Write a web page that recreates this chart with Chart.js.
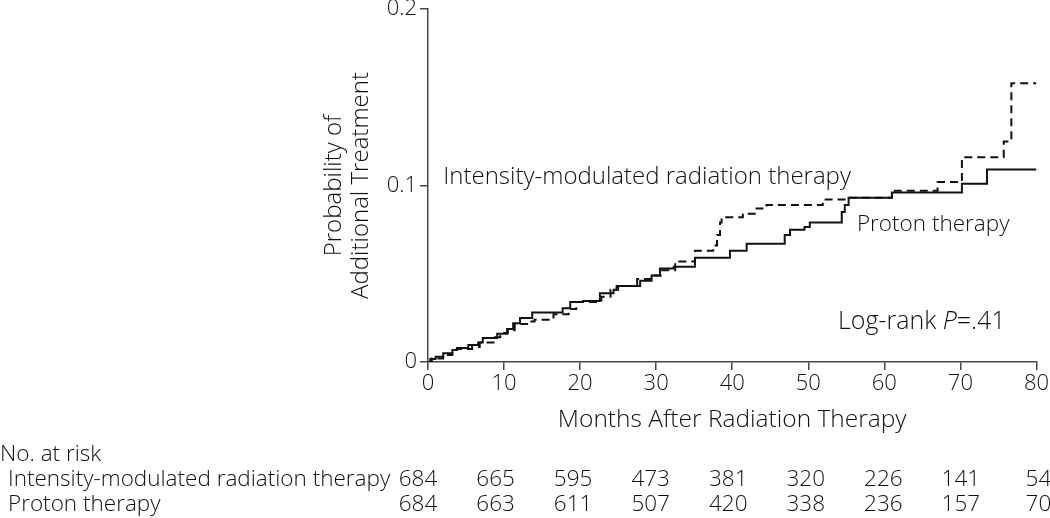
<!DOCTYPE html>
<html lang="en">
  <head>
    <meta charset="UTF-8" />
    <title>Probability of Additional Treatment</title>
    <script src="https://cdn.jsdelivr.net/npm/chart.js@4.4.1/dist/chart.umd.min.js"></script>
    <style>
      body { margin: 0; background: #fff; }
    </style>
  </head>
  <body>
    <canvas id="chart" width="1050" height="518"></canvas>
    <script>
    // step curves: month where the step happens, new probability
    const imrtMonths = [0, 0.5, 2, 3.2, 3.8, 5.8, 6.8, 8.8, 9.5, 10.5, 11.4, 13.2, 14, 16.5, 18.5, 19.5, 22.8, 24, 25,
      27.5, 29.3, 30.6, 32.5, 35.1, 37.5, 38, 38.4, 38.6, 41.4, 43.2, 44.5, 51.9, 55.2, 61, 67, 70.2, 75.7, 76.7, 80];
    const imrtProb = [0, 0.002, 0.004, 0.0068, 0.0074, 0.0085, 0.011, 0.014, 0.0164, 0.018, 0.0215, 0.023, 0.024, 0.027, 0.030, 0.034, 0.037, 0.041, 0.043,
      0.047, 0.049, 0.052, 0.057, 0.063, 0.066, 0.072, 0.079, 0.082, 0.084, 0.087, 0.089, 0.092, 0.093, 0.097, 0.102, 0.116, 0.125, 0.158, 0.158];

    const protonMonths = [0, 0.3, 1, 2, 3.2, 3.8, 5.3, 6.6, 7.2, 9.1, 10.4, 11.2, 12.1, 13.7, 17.7, 18.7, 20.4, 22.6, 24.4, 24.8,
      27.9, 29.4, 30.5, 32.3, 35.1, 39.7, 41.9, 46.9, 47.6, 49.5, 50.2, 54.4, 54.8, 55.3, 61, 70.2, 73.5, 80];
    const protonProb = [0, 0.0017, 0.003, 0.005, 0.0068, 0.008, 0.0096, 0.011, 0.0136, 0.016, 0.0187, 0.022, 0.025, 0.028, 0.0305, 0.034, 0.0345, 0.039, 0.041, 0.043,
      0.046, 0.049, 0.053, 0.054, 0.059, 0.063, 0.067, 0.072, 0.075, 0.0765, 0.079, 0.085, 0.089, 0.093, 0.096, 0.101, 0.109, 0.109];

    const riskMonths = [0, 10, 20, 30, 40, 50, 60, 70, 80];
    const imrtAtRisk = [684, 665, 595, 473, 381, 320, 226, 141, 54];
    const protonAtRisk = [684, 663, 611, 507, 420, 338, 236, 157, 70];

    const yTicks = [0, 0.1, 0.2];

    const ink = '#111';
    const family = "'Open Sans', Roboto, 'Liberation Sans', sans-serif";
    Chart.defaults.font.family = family;
    Chart.defaults.font.weight = '300';
    Chart.defaults.color = ink;

    function toPoints(xs, ys) {
      return xs.map((x, i) => ({x: x, y: ys[i]}));
    }

    // labels on the plot and the number-at-risk table under it
    const extraText = {
      id: 'extraText',
      afterDraw(chart) {
        const ctx = chart.ctx;
        const x = chart.scales.x, y = chart.scales.y;
        ctx.save();
        ctx.fillStyle = ink;
        ctx.textBaseline = 'middle';
        ctx.textAlign = 'left';
        ctx.font = '300 24px ' + family;
        ctx.fillText('Intensity-modulated radiation therapy', x.getPixelForValue(2), y.getPixelForValue(0.105));
        ctx.font = '300 22.5px ' + family;
        ctx.fillText('Proton therapy', x.getPixelForValue(56.4), y.getPixelForValue(0.078));

        // Log-rank P=.41 with italic P
        let lx = x.getPixelForValue(53.9), ly = y.getPixelForValue(0.0227);
        const parts = [['Log-rank ', 'normal'], ['P', 'italic'], ['=', 'normal'], ['.41', 'normal']];
        parts.forEach(p => {
          ctx.font = p[1] + ' 300 25px ' + family;
          ctx.fillText(p[0], lx, ly);
          lx += ctx.measureText(p[0]).width;
        });

        ctx.font = '300 22.5px ' + family;
        ctx.fillText('No. at risk', 0, 455);
        ctx.fillText('Intensity-modulated radiation therapy', 8, 480);
        ctx.fillText('Proton therapy', 8, 505);
        ctx.textAlign = 'center';
        riskMonths.forEach((m, i) => {
          const px = x.getPixelForValue(m) - 10 + 12 * m / 80;
          ctx.fillText(String(imrtAtRisk[i]), px, 480);
          ctx.fillText(String(protonAtRisk[i]), px, 505);
        });
        ctx.restore();
      }
    };

    const ctx = document.getElementById('chart').getContext('2d');
    const myChart = new Chart(ctx, {
      type: 'line',
      data: {
        datasets: [{
          label: 'Intensity-modulated radiation therapy',
          data: toPoints(imrtMonths, imrtProb),
          stepped: 'before',
          borderColor: ink,
          borderWidth: 2,
          borderDash: [8, 5],
          pointRadius: 0,
          fill: false
        }, {
          label: 'Proton therapy',
          data: toPoints(protonMonths, protonProb),
          stepped: 'before',
          borderColor: ink,
          borderWidth: 2,
          pointRadius: 0,
          fill: false
        }]
      },
      options: {
        responsive: false,
        animation: false,
        layout: { padding: { left: 318, top: 9, right: 13, bottom: 0 } },
        plugins: { legend: { display: false }, tooltip: { enabled: false } },
        scales: {
          x: {
            type: 'linear',
            min: 0,
            max: 80,
            afterFit(scale) { scale.height = 156; },
            border: { color: '#444', width: 1.5 },
            grid: { drawOnChartArea: false, tickLength: 8, color: '#444', lineWidth: 1.5 },
            ticks: { stepSize: 10, font: { size: 22 }, padding: 1, maxRotation: 0 },
            title: {
              display: true,
              text: 'Months After Radiation Therapy',
              font: { size: 24.5, lineHeight: 1.12 },
              padding: { top: 0, bottom: 84 }
            }
          },
          y: {
            min: 0,
            max: 0.2,
            afterFit(scale) { scale.width = 110; scale.paddingTop = 0; scale.paddingBottom = 0; },
            afterBuildTicks(scale) { scale.ticks = yTicks.map(v => ({value: v})); },
            border: { color: '#444', width: 1.5 },
            grid: { drawOnChartArea: false, tickLength: 8, color: '#444', lineWidth: 1.5 },
            ticks: { font: { size: 22 }, padding: 3, callback: v => String(v) },
            title: {
              display: true,
              text: ['Probability of', 'Additional Treatment'],
              font: { size: 24, lineHeight: 1.12 },
              padding: { top: 3, bottom: 0 }
            }
          }
        }
      },
      plugins: [extraText]
    });
    </script>
  </body>
</html>
